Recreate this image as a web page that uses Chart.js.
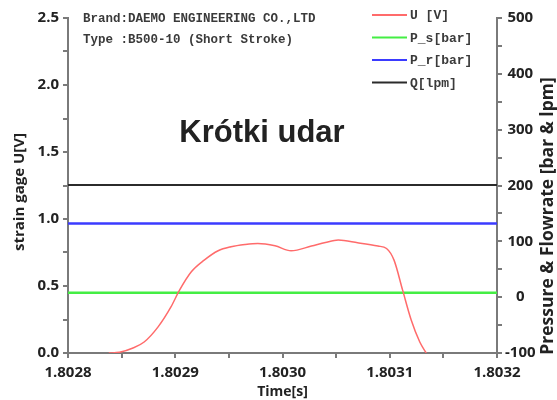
<!DOCTYPE html>
<html>
<head>
<meta charset="utf-8">
<script src="https://cdn.jsdelivr.net/npm/chart.js@4"></script>
<style>
  html, body { margin: 0; padding: 0; background: #fff; }
  #wrap { width: 557px; height: 400px; position: relative; }
</style>
</head>
<body>
<div id="wrap"><canvas id="c" width="557" height="400"></canvas></div>
<script>
// Strain gage voltage over time
const TIME = [1.802838, 1.802848, 1.802860, 1.802871, 1.802884, 1.802896, 1.802904, 1.802915,
              1.802927, 1.802940, 1.802952, 1.802965, 1.802977, 1.802993, 1.803008, 1.803027,
              1.803040, 1.803052, 1.803070, 1.803089, 1.803097, 1.803104, 1.803112, 1.803120,
              1.803128, 1.803134];
const VOLT = [0.0, 0.005, 0.035, 0.082, 0.195, 0.344, 0.469, 0.606,
              0.693, 0.763, 0.793, 0.810, 0.818, 0.800, 0.763, 0.798,
              0.825, 0.843, 0.823, 0.798, 0.780, 0.693, 0.469, 0.246,
              0.082, 0.0];

// Pressure and flow levels (constant over the window)
const LEVEL_TIME = [1.8028, 1.8032];
const P_S = [8, 8];       // bar
const P_R = [132, 132];   // bar
const Q   = [201, 201];   // lpm

const SERIES_NAMES = ['U [V]', 'P_s[bar]', 'P_r[bar]', 'Q[lpm]'];
const SERIES_COLORS = ['#ff6b6b', '#44ee44', '#3b3bff', '#2b2b2b'];

// Tick positions (labels only on major ticks)
const X_TICKS  = [1.8028, 1.80285, 1.8029, 1.80295, 1.8030, 1.80305, 1.8031, 1.80315, 1.8032];
const Y_TICKS  = [0, 0.25, 0.5, 0.75, 1.0, 1.25, 1.5, 1.75, 2.0, 2.25, 2.5];
const Y2_TICKS = [-100, -50, 0, 50, 100, 150, 200, 250, 300, 350, 400, 450, 500];

const HEADER_LINES = ['Brand:DAEMO ENGINEERING CO.,LTD', 'Type :B500-10 (Short Stroke)'];
const TITLE_TEXT = 'Krótki udar';
const LEFT_TITLE = 'strain gage U[V]';
const RIGHT_TITLE = 'Pressure & Flowrate [bar & lpm]';

const pts = (xs, ys) => xs.map((x, i) => ({ x, y: ys[i] }));

const AXIS_GRAY = '#7a7a7a';
const TICK_FONT = { family: "'Open Sans', sans-serif", size: 15, weight: 'bold' };
const TITLE_FONT = { family: "'Open Sans', sans-serif", size: 14, weight: 'bold' };

function rotatedText(ctx, text, x, y, font) {
  ctx.save();
  ctx.translate(x, y);
  ctx.rotate(-Math.PI / 2);
  ctx.font = font;
  ctx.fillStyle = '#222';
  ctx.textAlign = 'center';
  ctx.textBaseline = 'middle';
  ctx.fillText(text, 0, 0);
  ctx.restore();
}

const annotations = {
  id: 'annotations',
  afterDraw(chart) {
    const ctx = chart.ctx;
    ctx.save();
    // header text
    ctx.fillStyle = '#3a3a3a';
    ctx.font = "bold 12.5px 'Liberation Mono', monospace";
    ctx.textAlign = 'left';
    ctx.textBaseline = 'middle';
    ctx.fillText(HEADER_LINES[0], 83, 19);
    ctx.fillText(HEADER_LINES[1], 83, 40);

    // legend
    ctx.font = "bold 13px 'Liberation Mono', monospace";
    SERIES_NAMES.forEach((name, i) => {
      const y = 15 + i * 22.5;
      ctx.strokeStyle = SERIES_COLORS[i];
      ctx.lineWidth = 2;
      ctx.beginPath();
      ctx.moveTo(372, y);
      ctx.lineTo(407, y);
      ctx.stroke();
      ctx.fillStyle = '#3a3a3a';
      ctx.fillText(name, 410, y + 1);
    });

    // chart title
    ctx.fillStyle = '#222';
    ctx.font = "bold 31px 'Liberation Sans', Arial, sans-serif";
    ctx.textAlign = 'center';
    ctx.textBaseline = 'alphabetic';
    ctx.fillText(TITLE_TEXT, 262, 142);
    ctx.restore();

    // axis titles, reading bottom to top
    rotatedText(ctx, LEFT_TITLE, 20, 192, "bold 15px 'Open Sans', sans-serif");
    rotatedText(ctx, RIGHT_TITLE, 548, 216, "bold 17.5px 'Open Sans', sans-serif");
  }
};

new Chart(document.getElementById('c'), {
  type: 'line',
  data: {
    datasets: [
      { label: SERIES_NAMES[0], data: pts(TIME, VOLT), yAxisID: 'y',
        borderColor: SERIES_COLORS[0], borderWidth: 1.5, cubicInterpolationMode: 'monotone', pointRadius: 0 },
      { label: SERIES_NAMES[1], data: pts(LEVEL_TIME, P_S), yAxisID: 'y2',
        borderColor: SERIES_COLORS[1], borderWidth: 2.5, pointRadius: 0 },
      { label: SERIES_NAMES[2], data: pts(LEVEL_TIME, P_R), yAxisID: 'y2',
        borderColor: SERIES_COLORS[2], borderWidth: 2.5, pointRadius: 0 },
      { label: SERIES_NAMES[3], data: pts(LEVEL_TIME, Q), yAxisID: 'y2',
        borderColor: SERIES_COLORS[3], borderWidth: 2, pointRadius: 0 }
    ]
  },
  options: {
    responsive: false,
    animation: false,
    layout: { padding: { top: 18, left: 0, right: 0, bottom: 0 } },
    plugins: { legend: { display: false }, tooltip: { enabled: false } },
    scales: {
      x: {
        type: 'linear', min: 1.8028, max: 1.8032,
        afterBuildTicks: s => { s.ticks = X_TICKS.map(v => ({ value: v })); },
        afterFit: s => { s.height = 47; },
        grid: { drawOnChartArea: false, drawTicks: true, tickLength: 5, color: AXIS_GRAY, lineWidth: 2 },
        border: { display: true, color: AXIS_GRAY, width: 2 },
        ticks: {
          autoSkip: false, maxRotation: 0, padding: 6, color: '#222', font: TICK_FONT,
          callback: (v, i) => (i % 2 === 0 ? Number(v).toFixed(4) : '')
        },
        title: { display: true, text: 'Time[s]', color: '#222', font: TITLE_FONT, padding: { top: 0, bottom: 0 } }
      },
      y: {
        position: 'left', min: 0, max: 2.5,
        afterBuildTicks: s => { s.ticks = Y_TICKS.map(v => ({ value: v })); },
        afterFit: s => { s.width = 68; },
        grid: { drawOnChartArea: false, drawTicks: true, tickLength: 5, color: AXIS_GRAY, lineWidth: 2 },
        border: { display: true, color: AXIS_GRAY, width: 2 },
        ticks: {
          padding: 4, color: '#222', font: TICK_FONT,
          callback: (v, i) => (i % 2 === 0 ? Number(v).toFixed(1) : '')
        }
      },
      y2: {
        position: 'right', min: -100, max: 500,
        afterBuildTicks: s => { s.ticks = Y2_TICKS.map(v => ({ value: v })); },
        afterFit: s => { s.width = 60; },
        grid: { drawOnChartArea: false, drawTicks: true, tickLength: 5, color: AXIS_GRAY, lineWidth: 2 },
        border: { display: true, color: AXIS_GRAY, width: 2 },
        ticks: {
          padding: 3, color: '#222', font: TICK_FONT, crossAlign: 'center',
          callback: (v, i) => (i % 2 === 0 ? String(v) : '')
        }
      }
    }
  },
  plugins: [annotations]
});
</script>
</body>
</html>
